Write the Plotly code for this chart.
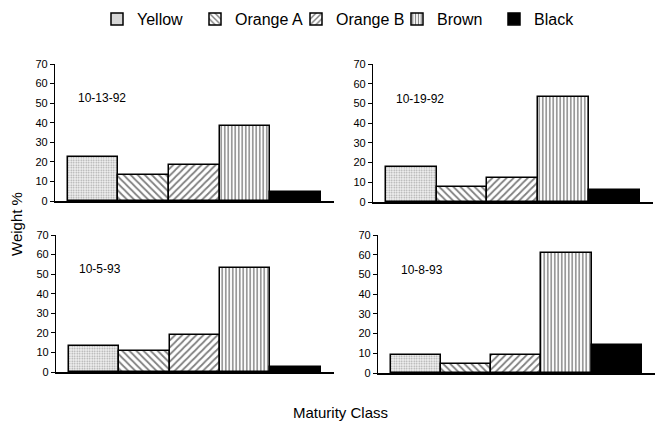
import plotly.graph_objects as go

categories = ["Yellow", "Orange A", "Orange B", "Brown", "Black"]
dates = ["10-13-92", "10-19-92", "10-5-93", "10-8-93"]
w_10_13_92 = [22.5, 13.5, 18.5, 38.5, 4.5]
w_10_19_92 = [18, 7.5, 12, 53.5, 6]
w_10_5_93 = [13.5, 10.5, 19, 53, 2.5]
w_10_8_93 = [9, 4.5, 9, 61, 14]
series = [w_10_13_92, w_10_19_92, w_10_5_93, w_10_8_93]
y_ticks = [0, 10, 20, 30, 40, 50, 60, 70]

FONT = "Liberation Sans, Arial, Helvetica"
patterns = {
    "Yellow": dict(shape=".", size=2.5, solidity=0.35, fgcolor="#555", bgcolor="#f2f2f2"),
    "Orange A": dict(shape="\\", size=5, solidity=0.35, fgcolor="black", bgcolor="white"),
    "Orange B": dict(shape="/", size=5, solidity=0.35, fgcolor="black", bgcolor="white"),
    "Brown": dict(shape="|", size=3.5, solidity=0.4, fgcolor="black", bgcolor="white"),
    "Black": dict(shape="", fgcolor="black", bgcolor="black"),
}

W, H = 655, 422
# pixel layout of each panel: (x0, x1, y_top(70), y_bottom(0))
panels = [(55, 334, 64, 201), (373, 653, 64, 202), (56, 334, 235, 372), (378, 655, 235, 373)]
# legend text start (px) for each category
legend_text_x = [135, 233, 334, 435, 532]

fig = go.Figure()
for p, (vals, date) in enumerate(zip(series, dates)):
    ax = "" if p == 0 else str(p + 1)
    for k, (c, v) in enumerate(zip(categories, vals)):
        pat = patterns[c]
        fig.add_trace(go.Bar(
            x=[c], y=[v], name=c, width=1.0,
            xaxis="x" + ax, yaxis="y" + ax,
            marker=dict(color="black" if c == "Black" else "white",
                        pattern=pat,
                        line=dict(color="black", width=1.5)),
            showlegend=(p == 0), legendgroup=c,
            legend="legend" if k == 0 else "legend" + str(k + 1),
        ))
    x0, x1, yt, yb = panels[p]
    fig.update_layout(**{
        "xaxis" + ax: dict(domain=[x0 / W, x1 / W], anchor="y" + ax,
                           categoryorder="array", categoryarray=categories,
                           range=[-0.75, 4.76], showticklabels=False,
                           showline=True, linecolor="black", linewidth=1.5,
                           ticks="", showgrid=False, zeroline=False, automargin=False),
        "yaxis" + ax: dict(domain=[1 - yb / H, 1 - yt / H], anchor="x" + ax,
                           range=[0, 70], tickvals=y_ticks, ticks="outside",
                           ticklen=4, tickwidth=1.2, tickcolor="black",
                           showline=True, linecolor="black", linewidth=1.3,
                           showgrid=False, zeroline=False, automargin=False,
                           tickfont=dict(family=FONT, size=11, color="black"),
                           ticklabelstandoff=0),
    })
    fig.add_annotation(text=date, x=-0.34, y=52.5, xref="x" + ax, yref="y" + ax,
                       xanchor="left", yanchor="middle", showarrow=False,
                       font=dict(family=FONT, size=12, color="black"))

fig.add_annotation(text="Weight %", x=16 / W, y=1 - 224 / H, xref="paper", yref="paper",
                   textangle=-90, showarrow=False, xanchor="center", yanchor="middle",
                   font=dict(family=FONT, size=15, color="black"))
fig.add_annotation(text="Maturity Class", x=340 / W, y=1 - 412 / H, xref="paper", yref="paper",
                   showarrow=False, xanchor="center", yanchor="middle",
                   font=dict(family=FONT, size=15, color="black"))

legends = {}
for k, tx in enumerate(legend_text_x):
    key = "legend" if k == 0 else "legend" + str(k + 1)
    legends[key] = dict(orientation="h", x=(tx - 38) / W, y=1 - 19 / H,
                        xanchor="left", yanchor="middle", itemwidth=30,
                        bgcolor="rgba(0,0,0,0)",
                        font=dict(family=FONT, size=16, color="black"))

fig.update_layout(
    width=W, height=H, margin=dict(l=0, r=0, t=0, b=0),
    paper_bgcolor="white", plot_bgcolor="white",
    bargap=0,
    **legends,
)

fig.write_html("out.html")
